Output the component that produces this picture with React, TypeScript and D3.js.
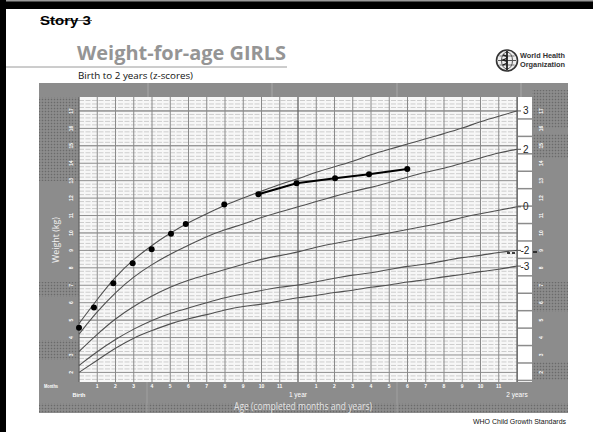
import React from "react";
import * as d3 from "d3";

const months = d3.range(0, 25);
const sdNeg3 = [2.0, 2.7, 3.4, 4.0, 4.4, 4.8, 5.1, 5.3, 5.6, 5.8, 5.9, 6.1, 6.3, 6.4, 6.6, 6.7, 6.9, 7.0, 7.2, 7.3, 7.5, 7.6, 7.8, 7.9, 8.1];
const sdNeg2 = [2.4, 3.2, 3.9, 4.5, 5.0, 5.4, 5.7, 6.0, 6.3, 6.5, 6.7, 6.9, 7.0, 7.2, 7.4, 7.6, 7.7, 7.9, 8.1, 8.2, 8.4, 8.6, 8.7, 8.9, 9.0];
const sd0 = [3.2, 4.2, 5.1, 5.8, 6.4, 6.9, 7.3, 7.6, 7.9, 8.2, 8.5, 8.7, 8.9, 9.2, 9.4, 9.6, 9.8, 10.0, 10.2, 10.4, 10.6, 10.9, 11.1, 11.3, 11.5];
const sd2 = [4.2, 5.5, 6.6, 7.5, 8.2, 8.8, 9.3, 9.8, 10.2, 10.5, 10.9, 11.2, 11.5, 11.8, 12.1, 12.4, 12.6, 12.9, 13.2, 13.5, 13.7, 14.0, 14.3, 14.6, 14.8];
const sd3 = [4.8, 6.2, 7.5, 8.5, 9.3, 10.0, 10.6, 11.1, 11.6, 12.0, 12.4, 12.8, 13.1, 13.5, 13.8, 14.1, 14.5, 14.8, 15.1, 15.4, 15.7, 16.0, 16.4, 16.7, 17.0];
const zLabels = ["-3", "-2", "0", "2", "3"];

const childMonths = [0, 0.82, 1.88, 2.94, 3.98, 5.04, 5.85, 7.96, 9.83, 11.92, 14.03, 15.89, 17.99];
const childWeights = [4.56, 5.73, 7.11, 8.26, 9.07, 9.96, 10.51, 11.64, 12.22, 12.85, 13.14, 13.37, 13.67];
const childLineStart = 8;

const kgTicks = d3.range(2, 18);
const monthTickLabels = ["1", "2", "3", "4", "5", "6", "7", "8", "9", "10", "11"];

const W = 593, H = 432;
const x = d3.scaleLinear().domain([0, 24]).range([79, 517]);
const y = d3.scaleLinear().domain([1.45, 17.8]).range([382, 97]);

const FRAME = "#8c8c8c";

export default function App() {
  const curveLine = d3
    .line<number>()
    .x((_, i) => x(months[i]))
    .y((d) => y(d))
    .curve(d3.curveBasis);
  const series = [sdNeg3, sdNeg2, sd0, sd2, sd3];

  const childLine = d3
    .line<number>()
    .x((_, i) => x(childMonths[i + childLineStart]))
    .y((d) => y(d));

  const minorKg = d3.range(1.6, 17.8, 0.2).filter((v) => Math.abs(v - Math.round(v)) > 0.05);

  return (
    <svg width={W} height={H} style={{ position: "absolute", left: 0, top: 0, background: "#fff" }}>
      <defs>
        <pattern id="dots" width="3" height="3" patternUnits="userSpaceOnUse">
          <rect width="3" height="3" fill="#858585" />
          <rect width="1" height="1" fill="#6a6a6a" />
          <rect x="1.5" y="1.5" width="1" height="1" fill="#a0a0a0" />
        </pattern>
      </defs>
      <rect width={W} height={H} fill="#fff" />
      {/* black border */}
      <rect x={0} y={0} width={W} height={9} fill="#000" />
      <rect x={0} y={0} width={W} height={1.5} fill="#9a9a9a" />
      <rect x={0} y={0} width={6} height={H} fill="#000" />

      {/* header */}
      <text x={40} y={24.5} fontFamily="Liberation Sans, Arial, sans-serif" fontWeight="bold" fontSize={12.5} fill="#000" textLength={51} lengthAdjust="spacingAndGlyphs">Story 3</text>
      <line x1={40} x2={92} y1={20.5} y2={20.5} stroke="#000" strokeWidth={0.6} />
      <text x={77} y={59.5} fontFamily="Open Sans, DejaVu Sans, sans-serif" fontWeight="bold" fontSize={19} fill="#959595" textLength={209} lengthAdjust="spacingAndGlyphs">Weight-for-age GIRLS</text>
      <line x1={6} x2={287} y1={67} y2={67} stroke="#9a9a9a" strokeWidth={1} />
      <text x={78} y={79} fontFamily="Open Sans, DejaVu Sans, sans-serif" fontSize={8.5} fill="#111" textLength={115} lengthAdjust="spacingAndGlyphs">Birth to 2 years (z-scores)</text>

      {/* WHO logo */}
      <g>
        <circle cx={507} cy={60.5} r={10.5} fill="#eee" stroke="#333" strokeWidth={1.6} />
        <ellipse cx={507} cy={60.5} rx={5.5} ry={8.5} fill="none" stroke="#555" strokeWidth={1} />
        <line x1={498} x2={516} y1={60.5} y2={60.5} stroke="#555" strokeWidth={1} />
        <line x1={499.5} x2={514.5} y1={56} y2={56} stroke="#555" strokeWidth={0.8} />
        <line x1={499.5} x2={514.5} y1={65} y2={65} stroke="#555" strokeWidth={0.8} />
        <line x1={507} x2={507} y1={51} y2={70} stroke="#222" strokeWidth={1.8} />
        <path d="M503,55 Q511,57 503,60 Q511,62 503,65" fill="none" stroke="#222" strokeWidth={1.4} />
        <text x={520} y={58} fontFamily="Liberation Sans, Arial, sans-serif" fontWeight="bold" fontSize={7} fill="#333" textLength={45} lengthAdjust="spacingAndGlyphs">World Health</text>
        <text x={520} y={67} fontFamily="Liberation Sans, Arial, sans-serif" fontWeight="bold" fontSize={7} fill="#333" textLength={45} lengthAdjust="spacingAndGlyphs">Organization</text>
      </g>

      {/* gray frame */}
      <rect x={39} y={83} width={529} height={330} fill={FRAME} />
      {/* textured areas */}
      <rect x={39} y={97} width={40} height={84} fill="url(#dots)" />
      <rect x={39} y={282} width={40} height={15} fill="url(#dots)" />
      <rect x={39} y={340} width={40} height={20} fill="url(#dots)" />
      <rect x={532} y={90} width={36} height={38} fill="url(#dots)" />
      <rect x={532} y={134} width={36} height={24} fill="url(#dots)" />
      <rect x={532} y={282} width={36} height={30} fill="url(#dots)" />
      <rect x={532} y={362} width={36} height={18} fill="url(#dots)" />
      <rect x={39} y={403} width={529} height={10} fill="url(#dots)" />
      {[148, 272, 397, 521].map((vx) => (
        <line key={vx} x1={vx} x2={vx} y1={83} y2={97} stroke="#a8a8a8" strokeWidth={1} />
      ))}
      {[147, 397].map((vx) => (
        <line key={vx} x1={vx} x2={vx} y1={382} y2={413} stroke="#a0a0a0" strokeWidth={1} />
      ))}

      {/* plot area */}
      <rect x={79} y={97} width={438} height={285} fill="#f7f7f7" />
      {minorKg.map((k) => (
        <line key={"m" + k} x1={79} x2={517} y1={y(k)} y2={y(k)} stroke="#cdcdcd" strokeWidth={1} strokeDasharray="5,1.5" />
      ))}
      {kgTicks.concat([17]).map((k) => (
        <line key={"k" + k} x1={79} x2={517} y1={y(k)} y2={y(k)} stroke={k % 5 === 0 ? "#707070" : "#8e8e8e"} strokeWidth={1} />
      ))}
      {months.map((m) => (
        <line key={"v" + m} x1={x(m)} x2={x(m)} y1={97} y2={382} stroke={m % 12 === 0 ? "#666" : "#8a8a8a"} strokeWidth={m % 12 === 0 ? 1.3 : 1} />
      ))}

      {/* right white label column */}
      <rect x={518} y={97} width={14} height={285} fill="#fff" />
      {kgTicks.map((k) => (
        <line key={"c" + k} x1={518} x2={532} y1={y(k) + 8} y2={y(k) + 8} stroke={FRAME} strokeWidth={1.5} />
      ))}

      {/* z-score curves */}
      {series.map((s, i) => (
        <g key={i}>
          <path d={curveLine(s) || ""} fill="none" stroke="#505050" strokeWidth={1.1} />
          <line x1={517} x2={521} y1={y(s[24])} y2={y(s[24])} stroke="#555" strokeWidth={1} />
          <text x={zLabels[i].length > 1 ? 520.5 : 523} y={y(s[24]) + 3.5} fontFamily="Liberation Sans, Arial, sans-serif" fontSize={10} fill="#222">{zLabels[i]}</text>
        </g>
      ))}
      <line x1={507} x2={517} y1={253} y2={253} stroke="#000" strokeWidth={1.3} strokeDasharray="3,2" />
      <line x1={533} x2={537} y1={252} y2={252} stroke="#000" strokeWidth={1.3} />

      {/* child data */}
      <path d={childLine(childWeights.slice(childLineStart)) || ""} fill="none" stroke="#000" strokeWidth={2.2} />
      {childMonths.map((m, i) => (
        <circle key={"p" + i} cx={x(m)} cy={y(childWeights[i])} r={3} fill="#000" />
      ))}

      {/* y tick labels */}
      {kgTicks.map((k) => (
        <g key={"yl" + k}>
          <text transform={`translate(73,${y(k)}) rotate(-90)`} textAnchor="middle" fontFamily="Liberation Sans, Arial, sans-serif" fontWeight="bold" fontSize={5} fill="#fff">{k}</text>
          <text transform={`translate(543,${y(k)}) rotate(-90)`} textAnchor="middle" fontFamily="Liberation Sans, Arial, sans-serif" fontWeight="bold" fontSize={5} fill="#fff">{k}</text>
        </g>
      ))}
      <text transform="translate(59,240) rotate(-90)" textAnchor="middle" fontFamily="Open Sans, DejaVu Sans, sans-serif" fontSize={9.5} fill="#f2f2f2" textLength={46} lengthAdjust="spacingAndGlyphs">Weight (kg)</text>

      {/* x tick labels */}
      {months.filter((m) => m % 12 !== 0).map((m) => (
        <text key={"xl" + m} x={x(m)} y={388} textAnchor="middle" fontFamily="Liberation Sans, Arial, sans-serif" fontWeight="bold" fontSize={5} fill="#fff">{monthTickLabels[(m % 12) - 1]}</text>
      ))}
      <text x={44} y={388} fontFamily="Liberation Sans, Arial, sans-serif" fontWeight="bold" fontSize={5.5} fill="#fff" textLength={14} lengthAdjust="spacingAndGlyphs">Months</text>
      <text x={x(0)} y={397} textAnchor="middle" fontFamily="Liberation Sans, Arial, sans-serif" fontWeight="bold" fontSize={5.5} fill="#fff">Birth</text>
      <text x={x(12)} y={397} textAnchor="middle" fontFamily="Liberation Sans, Arial, sans-serif" fontSize={6.5} fill="#fff">1 year</text>
      <text x={x(24)} y={397} textAnchor="middle" fontFamily="Liberation Sans, Arial, sans-serif" fontSize={6.5} fill="#fff">2 years</text>
      <text x={234} y={410} fontFamily="Open Sans, DejaVu Sans, sans-serif" fontSize={11} fill="#e6e6e6" textLength={138} lengthAdjust="spacingAndGlyphs">Age (completed months and years)</text>

      <text x={473} y={424} fontFamily="Liberation Sans, Arial, sans-serif" fontSize={6.5} fill="#111" textLength={93} lengthAdjust="spacingAndGlyphs">WHO Child Growth Standards</text>
    </svg>
  );
}
